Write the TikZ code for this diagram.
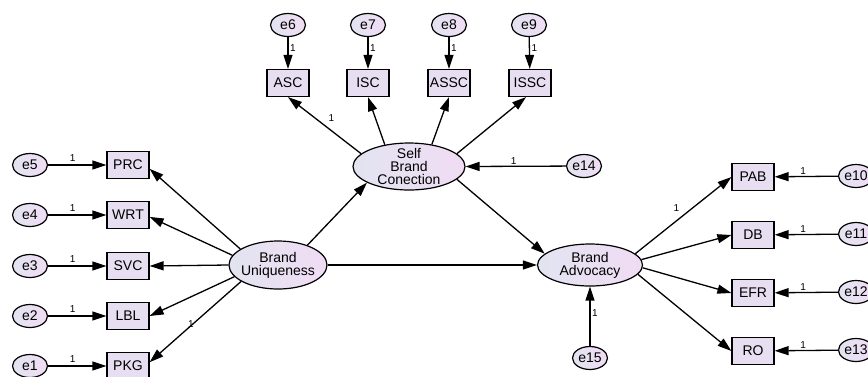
\documentclass[tikz,border=0pt]{standalone}
\usepackage{fontspec}
\setmainfont{Liberation Sans}
\usetikzlibrary{arrows.meta,shapes.geometric}

\definecolor{boxfill}{RGB}{232,222,242}
\definecolor{ovl}{RGB}{226,228,240}
\definecolor{ovr}{RGB}{240,220,244}

\tikzset{
  lbltext/.style={font=\fontsize{14}{13}\selectfont},
  ind/.style={draw, line width=1.2pt, fill=boxfill, minimum width=42pt,
    minimum height=27pt, inner sep=0pt, lbltext},
  lat/.style={ellipse, draw, line width=1.2pt, left color=ovl, right color=ovr,
    inner sep=0pt},
  err/.style={ellipse, draw, line width=1.2pt, left color=ovl, right color=ovr,
    minimum width=35pt, minimum height=23pt, inner sep=0pt, lbltext},
  conn/.style={line width=1.3pt, -{Triangle[length=14pt,width=9pt]}},
  one/.style={font=\fontsize{10}{10}\selectfont, inner sep=1.5pt}
}

\begin{document}
\begin{tikzpicture}[x=1pt,y=-1pt]
\useasboundingbox (0,0) rectangle (868,376);
\clip (0,0) rectangle (868,376);

% latent variables
\node[lat, minimum width=98pt, minimum height=48pt,
  label={[lbltext,align=center]center:Brand\\Uniqueness}] (BU) at (278,265) {};
\node[lat, minimum width=112pt, minimum height=47pt,
  label={[lbltext,align=center]center:Self\\Brand\\Conection}] (SBC) at (409,166.5) {};
\node[lat, minimum width=105pt, minimum height=42pt,
  label={[lbltext,align=center]center:Brand\\Advocacy}] (BA) at (590,265) {};

% Brand Uniqueness indicators
\node[ind] (PRC) at (128,165) {PRC};
\node[ind] (WRT) at (128,215) {WRT};
\node[ind] (SVC) at (128,266) {SVC};
\node[ind] (LBL) at (128,316) {LBL};
\node[ind] (PKG) at (128,366) {PKG};
\node[err] (e5) at (30,165) {e5};
\node[err] (e4) at (30,215) {e4};
\node[err] (e3) at (30,266) {e3};
\node[err] (e2) at (30,316) {e2};
\node[err] (e1) at (30,366) {e1};

% Self Brand Conection indicators
\node[ind] (ASC) at (288,83) {ASC};
\node[ind] (ISC) at (368,83) {ISC};
\node[ind] (ASSC) at (449,83) {ASSC};
\node[ind] (ISSC) at (530,83) {ISSC};
\node[err] (e6) at (288,25) {e6};
\node[err] (e7) at (368,25) {e7};
\node[err] (e8) at (449,25) {e8};
\node[err] (e9) at (529,25) {e9};
\node[err] (e14) at (584,166) {e14};

% Brand Advocacy indicators
\node[ind] (PAB) at (753,177) {PAB};
\node[ind] (DB) at (753,235) {DB};
\node[ind] (EFR) at (753,293) {EFR};
\node[ind] (RO) at (753,351) {RO};
\node[err] (e10) at (856,176) {e10};
\node[err] (e11) at (856,234) {e11};
\node[err] (e12) at (856,292) {e12};
\node[err] (e13) at (856,350) {e13};
\node[err] (e15) at (590,358) {e15};

% error terms
\foreach \e/\b in {e5/PRC,e4/WRT,e3/SVC,e2/LBL,e1/PKG}
  \draw[conn] (\e) -- node[one,pos=.42,above=1.5pt]{1} (\b);
\foreach \e/\b in {e6/ASC,e7/ISC,e8/ASSC,e9/ISSC}
  \draw[conn] (\e) -- node[one,pos=.35,right]{1} (\b);
\foreach \e/\b in {e10/PAB,e11/DB,e12/EFR,e13/RO}
  \draw[conn] (\e) -- node[one,pos=.55,above]{1} (\b);
\draw[conn] (e14) -- node[one,pos=.52,above]{1} (SBC.east);
\draw[conn] (e15) -- node[one,pos=.56,right]{1} (BA.south);

% loadings of Brand Uniqueness
\draw[conn] (BU.157) -- (PRC.-10);
\draw[conn] (BU.168) -- (WRT.-5);
\draw[conn] (BU.west) -- (SVC.east);
\draw[conn] (BU.195) -- (LBL.east);
\draw[conn] (BU.204) -- node[one,pos=.62,above right=1.5pt]{1} (PKG.10);

% loadings of Self Brand Conection
\draw[conn] (SBC.165) -- node[one,pos=.5,above right=2pt]{1} (ASC.south);
\draw[conn] (SBC.138) -- (ISC.south);
\draw[conn] (SBC.44) -- (ASSC.south);
\draw[conn] (SBC.15) -- ([xshift=-4pt]ISSC.south);

% loadings of Brand Advocacy
\draw[conn] (BA.14) -- node[one,pos=.5,above left=2pt]{1} (PAB.west);
\draw[conn] (BA.6.5) -- (DB.west);
\draw[conn] (BA.-3) -- (EFR.west);
\draw[conn] (BA.-11) -- (RO.west);

% structural paths
\draw[conn] (BU.34) -- (SBC.201.5);
\draw[conn] (BU.east) -- (BA.west);
\draw[conn] (SBC.-15) -- (BA.166);
\end{tikzpicture}
\end{document}
